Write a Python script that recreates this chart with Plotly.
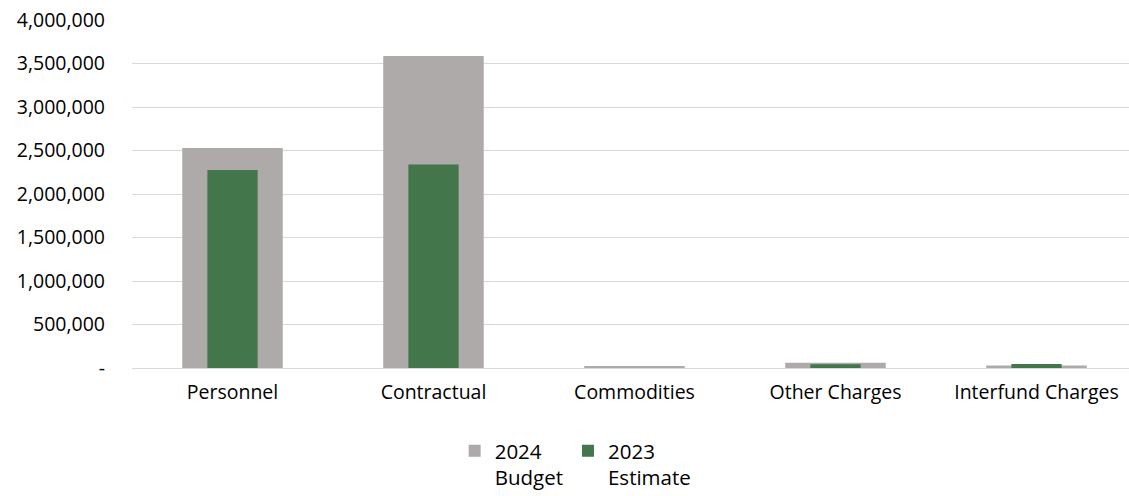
import plotly.graph_objects as go

categories = ["Personnel", "Contractual", "Commodities", "Other Charges", "Interfund Charges"]
budget_2024 = [2530000, 3585000, 15000, 60000, 30000]
estimate_2023 = [2275000, 2340000, 0, 42000, 45000]
series_names = ["2024<br>Budget", "2023<br>Estimate"]
y_tickvals = [0, 500000, 1000000, 1500000, 2000000, 2500000, 3000000, 3500000, 4000000]
y_ticktext = ["-", "500,000", "1,000,000", "1,500,000", "2,000,000", "2,500,000",
              "3,000,000", "3,500,000", "4,000,000"]

FONT = "Open Sans, Liberation Sans, sans-serif"

fig = go.Figure()
fig.add_trace(go.Bar(
    x=categories, y=budget_2024, name=series_names[0],
    marker=dict(color="#AEAAAA", line=dict(width=0)), width=0.5,
))
fig.add_trace(go.Bar(
    x=categories, y=estimate_2023, name=series_names[1],
    marker=dict(color="#43764A", line=dict(width=0)), width=0.25,
))

fig.update_layout(
    width=1129, height=496,
    barmode="overlay",
    plot_bgcolor="white", paper_bgcolor="white",
    margin=dict(l=132, r=0, t=20, b=128, autoexpand=False),
    font=dict(family=FONT, size=19.5, color="#000000"),
    showlegend=True,
    legend=dict(
        orientation="h", x=0.445, xanchor="center",
        yref="container", y=1 - 431 / 496, yanchor="top",
        font=dict(family=FONT, size=20.5, color="#000000"),
        valign="top", traceorder="normal",
    ),
    xaxis=dict(
        type="category", range=[-0.5, -0.5 + (1129 - 132) / 201.0],
        showgrid=False, zeroline=False, showline=False, ticks="",
        ticklabelstandoff=10,
    ),
    yaxis=dict(
        range=[0, 4000000], tickvals=y_tickvals, ticktext=y_ticktext,
        showgrid=True, gridcolor="#D9D9D9", gridwidth=1,
        zeroline=True, zerolinecolor="#D9D9D9", zerolinewidth=1,
        showline=False, ticks="", ticklabelstandoff=26,
    ),
)

fig.write_html("out.html")
